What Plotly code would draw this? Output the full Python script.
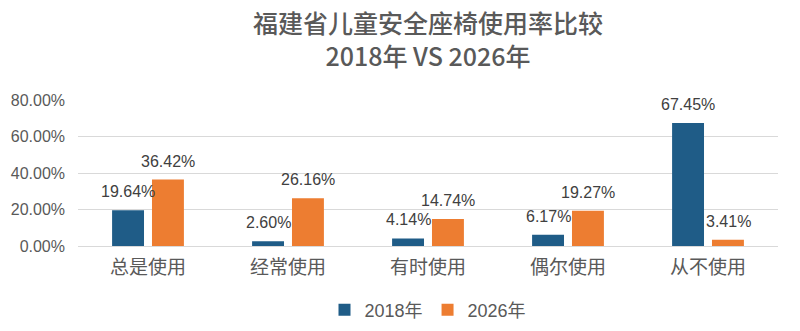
import plotly.graph_objects as go

categories = ["总是使用", "经常使用", "有时使用", "偶尔使用", "从不使用"]
series_names = ["2018年", "2026年"]
values_2018 = [19.64, 2.60, 4.14, 6.17, 67.45]
values_2026 = [36.42, 26.16, 14.74, 19.27, 3.41]
tick_vals = [0, 20, 40, 60, 80]
tick_text = ["0.00%", "20.00%", "40.00%", "60.00%", "80.00%"]

colors = ["#1F5C87", "#ED7D31"]
font_family = "Liberation Sans, Noto Sans CJK SC, sans-serif"

fig = go.Figure()
for name, vals, col in zip(series_names, [values_2018, values_2026], colors):
    fig.add_trace(go.Bar(x=categories, y=vals, name=name, marker_color=col,
                         marker_line_width=0))

for vals, shift in [(values_2018, -20), (values_2026, 20)]:
    for c, v in zip(categories, vals):
        fig.add_annotation(x=c, y=v, text=f"{v:.2f}%", showarrow=False,
                           xshift=shift, yshift=8, yanchor="bottom",
                           font=dict(size=16, color="#404040", family=font_family))

fig.update_layout(
    width=800, height=331,
    margin=dict(l=78, r=22, t=100, b=85),
    paper_bgcolor="white", plot_bgcolor="white",
    barmode="group", bargap=0.43, bargroupgap=0.2,
    title=dict(text="福建省儿童安全座椅使用率比较<br>2018年 VS 2026年",
               x=0.5, xanchor="center", xref="paper", yref="container",
               y=0.90, yanchor="middle",
               font=dict(size=25, color="#595959", weight=500,
                         family="Noto Sans CJK SC, Liberation Sans, sans-serif")),
    font=dict(family=font_family, color="#595959"),
    legend=dict(orientation="h", x=0.5, xanchor="center",
                yref="container", y=0.063, yanchor="middle",
                font=dict(size=18, color="#595959"), itemwidth=30,
                traceorder="normal"),
    xaxis=dict(showgrid=False, showline=True, linecolor="#d9d9d9",
               tickfont=dict(size=19, color="#595959"), ticks="",
               ticklabelstandoff=4, automargin=False),
    yaxis=dict(range=[0, 80], tickvals=tick_vals, ticktext=tick_text,
               showgrid=True, gridcolor="#d9d9d9", gridwidth=1, zeroline=False,
               tickfont=dict(size=16, color="#595959"), ticks="", showline=False,
               ticklabelstandoff=12, automargin=False),
)

fig.write_html("out.html")
